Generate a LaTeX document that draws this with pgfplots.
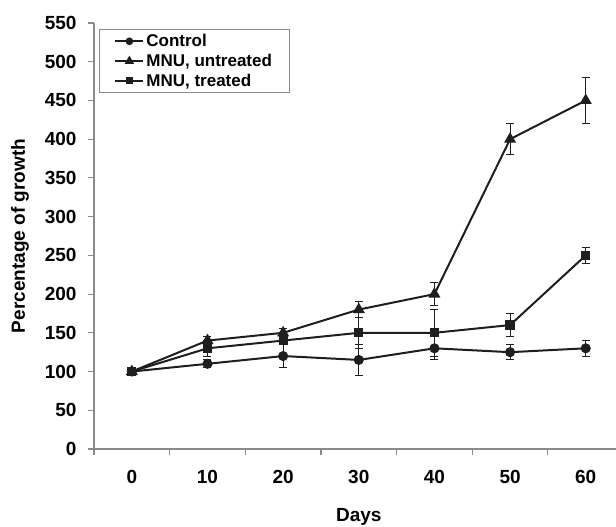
\documentclass[border=0pt]{standalone}
\usepackage{fontspec}
\setmainfont{Liberation Sans}
\usepackage{pgfplots}
\pgfplotsset{compat=1.18}

\definecolor{ink}{HTML}{1E1E1E}
\definecolor{axisgray}{HTML}{8A8A8A}

% day, mean, error
\pgfplotstableread{
x y e
0 100 0
10 110 5
20 120 15
30 115 20
40 130 15
50 125 10
60 130 10
}\control
\pgfplotstableread{
x y e
0 100 0
10 140 5
20 150 5
30 180 10
40 200 15
50 400 20
60 450 30
}\untreated
\pgfplotstableread{
x y e
0 100 0
10 130 10
20 140 5
30 150 20
40 150 30
50 160 15
60 250 10
}\treated

\newcommand{\bigbold}{\fontsize{19}{21}\selectfont\bfseries}

\begin{document}
\begin{tikzpicture}
\useasboundingbox (-94pt,-78pt) rectangle (522pt,449pt);
\begin{axis}[
  at={(0,0)}, anchor=south west,
  scale only axis, width=522pt, height=426pt,
  xmin=-5, xmax=64, ymin=0, ymax=550,
  axis lines=left, axis line style={axisgray, line width=1.3pt, -},
  xtick={-5,5,...,55}, xticklabels={},
  extra x ticks={0,10,...,60},
  extra x tick style={major tick length=0pt, xticklabel style={yshift=-18pt}},
  ytick={0,50,...,550},
  tick align=outside, major tick length=6pt,
  every tick/.style={axisgray, line width=1.1pt},
  /pgf/number format/assume math mode=true,
  xticklabel style={font=\bigbold, text=black},
  yticklabel style={font=\bigbold, text=black, xshift=-8pt},
  xlabel={Days}, ylabel={Percentage of growth},
  every axis x label/.style={at={(axis cs:30,0)}, anchor=center, yshift=-68pt,
    font=\bigbold},
  every axis y label/.style={at={(rel axis cs:0,0.5)}, anchor=center, rotate=90, yshift=74pt,
    font=\bigbold},
  clip=false,
  legend style={at={(rel axis cs:0,1)}, anchor=north west, xshift=5pt, yshift=-6pt,
    draw=axisgray, line width=0.8pt, font=\fontsize{17}{19}\selectfont\bfseries,
    inner xsep=15pt, inner ysep=3pt, row sep=2pt, cells={anchor=west}},
  legend image code/.code={
    \draw[#1, every mark/.append style={scale=0.7}, mark repeat=2, mark phase=2]
      plot coordinates {(0pt,0pt) (14pt,0pt) (28pt,0pt)};},
  error bars/error bar style={line width=1.1pt, ink},
  error bars/error mark options={rotate=90, mark size=4pt, line width=1.1pt, ink},
]
\addplot[ink, line width=2pt, mark=*, mark size=4pt, mark options={solid, fill=ink, draw=ink},
  error bars/.cd, y dir=both, y explicit] table[x=x, y=y, y error=e] {\control};
\addlegendentry{Control}
\addplot[ink, line width=2pt, mark=triangle*, mark size=5pt, mark options={solid, fill=ink, draw=ink},
  error bars/.cd, y dir=both, y explicit] table[x=x, y=y, y error=e] {\untreated};
\addlegendentry{MNU, untreated}
\addplot[ink, line width=2pt, mark=square*, mark size=3.6pt, mark options={solid, fill=ink, draw=ink},
  error bars/.cd, y dir=both, y explicit] table[x=x, y=y, y error=e] {\treated};
\addlegendentry{MNU, treated}
\end{axis}
\end{tikzpicture}
\end{document}
